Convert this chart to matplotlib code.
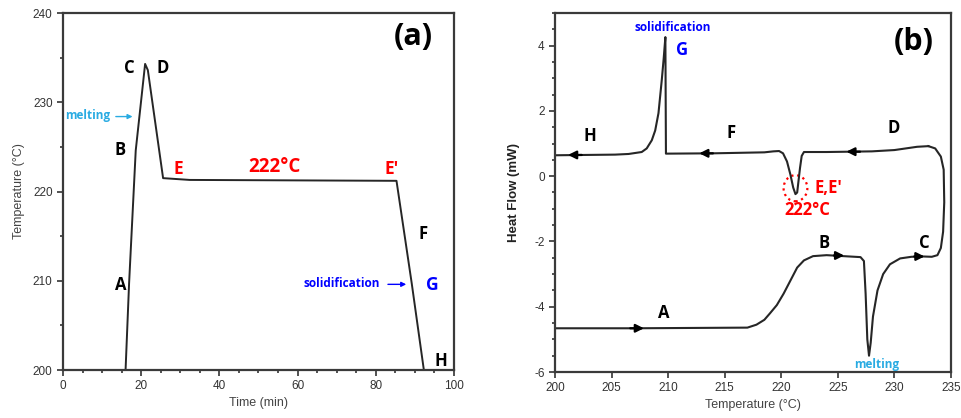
import matplotlib
matplotlib.use("Agg")
import matplotlib.pyplot as plt
from matplotlib.patches import Ellipse
from matplotlib.ticker import MultipleLocator

plt.rcParams["font.family"] = ["Liberation Sans", "DejaVu Sans"]
plt.rcParams["axes.unicode_minus"] = False

# ------------------------------------------------------------
# Data
# ------------------------------------------------------------
# (a) temperature program
time_min = [16.0, 16.9, 18.6, 21.0, 21.7, 25.6, 32.4, 85.3, 89.2, 92.3]
temp_prog = [200.0, 209.7, 224.6, 234.3, 233.6, 221.5, 221.3, 221.2, 209.7, 200.0]

# (b) DSC heating branch A -> B -> C (incl. right-hand turn)
heat_T = [200.0, 207.0, 217.0, 217.8, 218.5, 219.0, 219.6, 220.2, 220.8, 221.4,
          222.0, 222.8, 224.0, 225.5, 227.0, 227.3, 227.45, 227.6, 227.75, 227.9,
          228.1, 228.5, 229.0, 229.6, 230.5, 231.5, 232.5, 233.3, 233.8, 234.1,
          234.3, 234.4, 234.35, 234.1, 233.6, 233.0]
heat_HF = [-4.66, -4.66, -4.64, -4.55, -4.4, -4.2, -3.95, -3.6, -3.2, -2.8,
           -2.58, -2.45, -2.42, -2.45, -2.48, -2.6, -3.6, -5.0, -5.5, -5.1,
           -4.3, -3.5, -3.0, -2.7, -2.52, -2.47, -2.46, -2.47, -2.42, -2.2,
           -1.7, -0.8, 0.2, 0.6, 0.85, 0.92]

# (b) DSC cooling branch D -> E,E' -> F -> G -> H
cool_T = [233.0, 232.0, 231.0, 230.0, 228.0, 224.0, 222.0, 221.8, 221.65, 221.5,
          221.4, 221.25, 221.05, 220.8, 220.5, 220.15, 219.8, 219.3, 218.5, 214.0,
          209.8, 209.75, 209.6, 209.43, 209.14, 208.85, 208.55, 208.1, 207.66, 206.5,
          205.3, 200.0]
cool_HF = [0.92, 0.9, 0.85, 0.8, 0.76, 0.74, 0.74, 0.62, 0.25, -0.2,
           -0.5, -0.55, -0.35, 0.05, 0.45, 0.7, 0.77, 0.76, 0.73, 0.70,
           0.69, 4.26, 3.6, 2.94, 1.93, 1.4, 1.1, 0.85, 0.74, 0.68,
           0.66, 0.64]

# arrows on the DSC curve: (tail T, head T, heat flow)
dsc_arrows = [(206.4, 208.1, -4.66), (224.4, 225.8, -2.43), (231.5, 232.9, -2.46),
              (227.2, 225.5, 0.75), (214.2, 212.5, 0.70), (202.6, 200.9, 0.65)]

# labels: (text, x, y, colour, size)
labels_a = [("C", 16.9, 233.8, "black", 12), ("D", 25.6, 233.8, "black", 12),
            ("B", 14.7, 224.7, "black", 12), ("E", 29.4, 222.5, "red", 12.5),
            ("222°C", 54.2, 222.8, "red", 13.5), ("E′", 84.1, 222.5, "red", 12.5),
            ("F", 92.0, 215.2, "black", 12), ("A", 14.7, 209.5, "black", 12),
            ("G", 94.4, 209.5, "blue", 12.5), ("H", 96.6, 201.0, "black", 12),
            ("(a)", 89.6, 237.3, "black", 22)]
labels_b = [("solidification", 210.4, 4.56, "blue", 8.5), ("G", 211.2, 3.88, "blue", 12),
            ("H", 203.1, 1.22, "black", 12), ("F", 215.6, 1.31, "black", 12),
            ("D", 229.9, 1.48, "black", 12), ("E,E′", 224.2, -0.35, "red", 12),
            ("222°C", 222.3, -1.04, "red", 12), ("B", 223.8, -2.04, "black", 12),
            ("C", 232.6, -2.05, "black", 12), ("A", 209.6, -4.18, "black", 12),
            ("melting", 228.4, -5.76, "#29abe2", 8.5), ("(b)", 231.7, 4.1, "black", 22)]

line_col = "#262626"
tick_col = "#333333"


def style_axes(ax):
    for s in ax.spines.values():
        s.set_linewidth(1.6)
        s.set_color("#3a3a3a")
    ax.tick_params(which="both", direction="out", colors=tick_col, labelsize=8.5,
                   width=1.2, labelcolor=tick_col)
    ax.tick_params(which="major", length=4)
    ax.tick_params(which="minor", length=2.5)


fig = plt.figure(figsize=(9.62, 4.18), dpi=100)

# ------------------------------------------------------------
# (a) Temperature vs time
# ------------------------------------------------------------
ax1 = fig.add_axes([0.0655, 0.1148, 0.4064, 0.854])
ax1.plot(time_min, temp_prog, color=line_col, lw=1.4)
ax1.set_xlim(0, 100)
ax1.set_ylim(200, 240)
ax1.xaxis.set_major_locator(MultipleLocator(20))
ax1.xaxis.set_minor_locator(MultipleLocator(5))
ax1.yaxis.set_major_locator(MultipleLocator(10))
ax1.yaxis.set_minor_locator(MultipleLocator(5))
style_axes(ax1)
ax1.set_xlabel("Time (min)", fontsize=9, color="#444444", labelpad=3)
ax1.set_ylabel("Temperature (°C)", fontsize=9, color="#444444", labelpad=6)

for txt, x, y, c, fs in labels_a:
    ax1.text(x, y, txt, color=c, fontsize=fs, fontweight="bold", ha="center",
             va="center", family=["Open Sans", "DejaVu Sans"])

ax1.annotate("", xy=(18.5, 228.4), xytext=(12.8, 228.4),
             arrowprops=dict(arrowstyle="-|>", color="#29abe2", lw=1.0, mutation_scale=7))
ax1.text(0.5, 228.5, "melting", color="#29abe2", fontsize=8.5, fontweight="bold",
         ha="left", va="center", family=["Open Sans", "DejaVu Sans"])
ax1.annotate("", xy=(88.5, 209.6), xytext=(82.4, 209.6),
             arrowprops=dict(arrowstyle="-|>", color="blue", lw=1.0, mutation_scale=7))
ax1.text(71.3, 209.7, "solidification", color="blue", fontsize=8.5, fontweight="bold",
         ha="center", va="center", family=["Open Sans", "DejaVu Sans"])

# ------------------------------------------------------------
# (b) DSC heat flow vs temperature
# ------------------------------------------------------------
ax2 = fig.add_axes([0.577, 0.110, 0.4116, 0.859])
ax2.plot(heat_T, heat_HF, color=line_col, lw=1.5)
ax2.plot(cool_T, cool_HF, color=line_col, lw=1.5)
for t0, t1, hf in dsc_arrows:
    ax2.annotate("", xy=(t1, hf), xytext=(t0, hf),
                 arrowprops=dict(arrowstyle="-|>", color="black", lw=1.6, mutation_scale=12))
ax2.add_patch(Ellipse((221.25, -0.37), 2.1, 0.8, fill=False, edgecolor="red",
                      linestyle=":", lw=1.6))
ax2.set_xlim(200, 235)
ax2.set_ylim(-6, 5)
ax2.xaxis.set_major_locator(MultipleLocator(5))
ax2.yaxis.set_major_locator(MultipleLocator(2))
ax2.yaxis.set_minor_locator(MultipleLocator(0.5))
style_axes(ax2)
ax2.set_xlabel("Temperature (°C)", fontsize=9, color="#444444", labelpad=3)
ax2.set_ylabel("Heat Flow (mW)", fontsize=9.5, color="#222222", fontweight="bold",
               labelpad=10)

for txt, x, y, c, fs in labels_b:
    ax2.text(x, y, txt, color=c, fontsize=fs, fontweight="bold", ha="center",
             va="center", family=["Open Sans", "DejaVu Sans"])

fig.savefig("out.png", dpi=100)
